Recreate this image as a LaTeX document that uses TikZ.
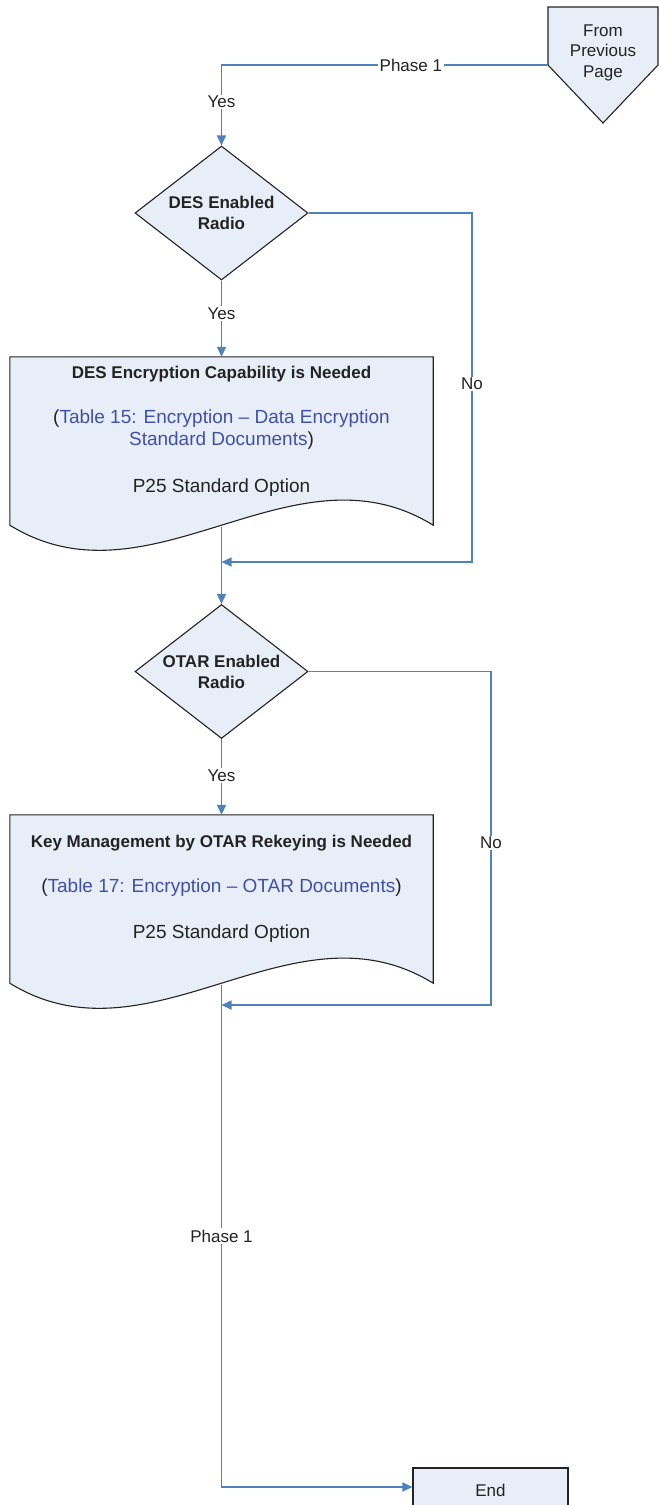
\documentclass[tikz,border=0pt]{standalone}
\usepackage{fontspec}
\setmainfont{Liberation Sans}
\usetikzlibrary{shapes.geometric,arrows.meta,calc}
\definecolor{flowblue}{RGB}{79,129,189}
\definecolor{boxfill}{RGB}{232,238,247}
\definecolor{refblue}{RGB}{64,80,168}
\definecolor{ink}{RGB}{35,35,35}
\begin{document}
\begin{tikzpicture}[x=1pt,y=-1pt,
  flow/.style={draw=flowblue, line width=1.6pt, -{Triangle[length=10pt,width=9pt]}},
  plainflow/.style={draw=flowblue, line width=1.6pt},
  shapeline/.style={draw=ink, line width=1.1pt, fill=boxfill},
  decision/.style={diamond, shapeline, minimum width=173pt, minimum height=134pt,
    inner sep=0pt, shape aspect=1.3, align=center,
    font=\fontsize{17}{21}\selectfont\bfseries, text=ink},
  docbox/.style={rectangle, inner sep=0pt, minimum width=423pt, minimum height=168pt},
  doctext/.style={align=center, inner sep=0pt, text=ink, font=\fontsize{19}{22}\selectfont},
  endbox/.style={rectangle, shapeline, minimum width=155pt, minimum height=44pt,
    inner sep=0pt, text=ink, font=\fontsize{17}{20}\selectfont},
  lbl/.style={fill=white, inner sep=1.5pt, text=ink, font=\fontsize{17}{20}\selectfont}
]
\useasboundingbox (0,0) rectangle (660,1505);
\clip (0,0) rectangle (660,1505);

% off-page connector
\draw[shapeline] (548,7) -- (658,7) -- (658,65) -- (603,123) -- (548,65) -- cycle;
\node[align=center, inner sep=0pt, text=ink, font=\fontsize{17}{20.5}\selectfont] (prev) at (603,52.5) {From\\Previous\\Page};
\coordinate (prevout) at (548,65);

% decision 1
\node[decision] (d1) at (221.5,213) {DES Enabled\\Radio};

% document 1
\node[docbox] (doc1) at (221.5,441) {};
\draw[shapeline] (doc1.south west) -- (doc1.north west) -- (doc1.north east) -- (doc1.south east)
  .. controls ($(doc1.south east)+(-141,-87)$) and ($(doc1.south west)+(141,87)$) .. (doc1.south west) -- cycle;
\node[doctext, anchor=north] (doc1t) at (221.5,365.5) {%
  {\bfseries\fontsize{17}{20}\selectfont DES Encryption Capability is Needed}\\[23.5pt]
  (\textcolor{refblue}{Table 15: Encryption – Data Encryption}\\
  \textcolor{refblue}{Standard Documents})\\[25pt]
  P25 Standard Option};
\coordinate (doc1out) at (221.5,527);
\coordinate (j1) at (221.5,562);

% decision 2
\node[decision] (d2) at (221.5,671.5) {OTAR Enabled\\Radio};

% document 2
\node[docbox] (doc2) at (221.5,899) {};
\draw[shapeline] (doc2.south west) -- (doc2.north west) -- (doc2.north east) -- (doc2.south east)
  .. controls ($(doc2.south east)+(-141,-87)$) and ($(doc2.south west)+(141,87)$) .. (doc2.south west) -- cycle;
\node[doctext, anchor=north] (doc2t) at (221.5,834.5) {%
  {\bfseries\fontsize{17}{20}\selectfont Key Management by OTAR Rekeying is Needed}\\[23.5pt]
  (\textcolor{refblue}{Table 17: Encryption – OTAR Documents})\\[23.5pt]
  P25 Standard Option};
\coordinate (doc2out) at (221.5,985);
\coordinate (j2) at (221.5,1005);

% end
\node[endbox] (end) at (490.5,1490) {End};

% connectors
\draw[flow] (prevout) -| (d1.north)
  node[lbl, pos=0.21] {Phase 1}
  node[lbl, pos=0.73] {Yes};
\draw[flow] (d1.south) -- (doc1.north) node[lbl, pos=0.43] {Yes};
\draw[flow] (d1.east) -| (472,562) node[lbl, pos=0.745] {No} -- (j1);
\draw[flow] (doc1out) -- (d2.north);
\draw[flow] (d2.south) -- (doc2.north) node[lbl, pos=0.48] {Yes};
\draw[flow] (d2.east) -| (491,1005) node[lbl, pos=0.757] {No} -- (j2);
\draw[flow] (doc2out) |- ([yshift=3pt]end.west) node[lbl, pos=0.25] {Phase 1};
\end{tikzpicture}
\end{document}
